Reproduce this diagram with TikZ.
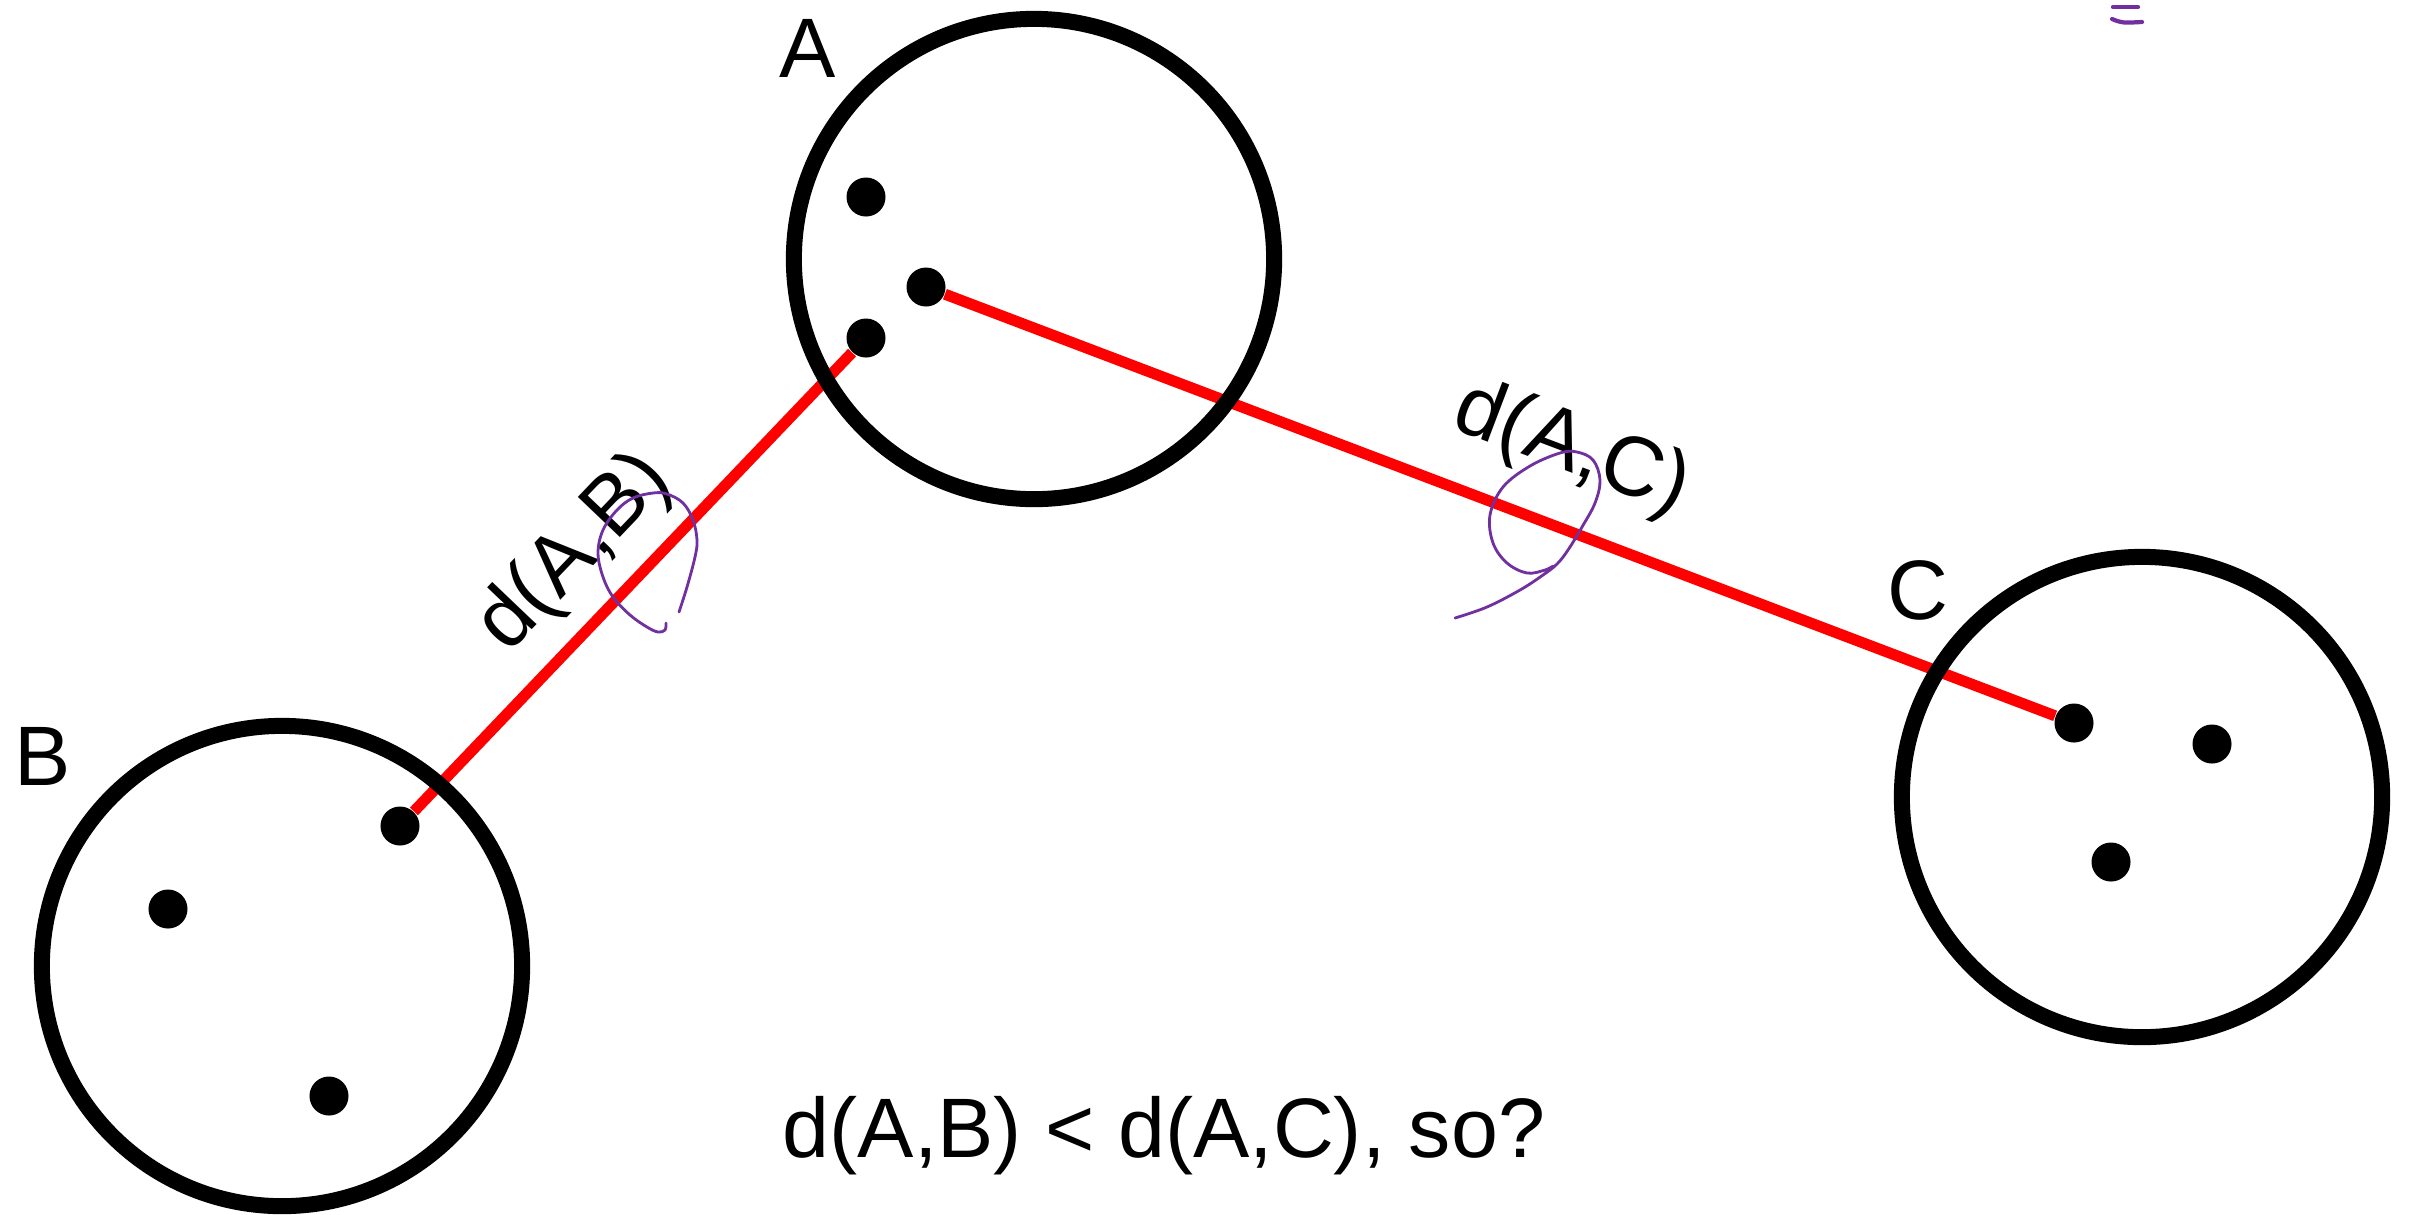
\documentclass[tikz,border=0pt]{standalone}
\usepackage{fontspec}
\setmainfont{Liberation Sans}
\definecolor{penviolet}{RGB}{112,48,160}
\begin{document}
\begin{tikzpicture}[x=0.01cm,y=-0.01cm,
		cluster/.style={circle,draw,line width=1.6mm,minimum size=4.8cm,inner sep=0pt},
		pt/.style={circle,fill,minimum size=3.9mm,inner sep=0pt},
		link/.style={line width=1.1mm,red},
		lbl/.style={font=\fontsize{24}{28}\selectfont,text=black,inner sep=0pt},
		scribble/.style={penviolet,line width=0.8pt,line cap=round,line join=round}]
			\useasboundingbox (0,0) rectangle (2409,1214);
			% points of each cluster
			\node[pt] (a1) at (866,197) {};
			\node[pt] (a2) at (926,287) {};
			\node[pt] (a3) at (866,338) {};
			\node[pt] (b1) at (400,826) {};
			\node[pt] (b2) at (168,909) {};
			\node[pt] (b3) at (329,1096) {};
			\node[pt] (c1) at (2074,723) {};
			\node[pt] (c2) at (2212,744) {};
			\node[pt] (c3) at (2111,862) {};
			\draw[link] (b1) -- node[lbl,sloped,pos=0.47,above=1.7mm] (dAB) {d(A,B)} (a3);
			\draw[link] (a2) -- node[lbl,sloped,pos=0.54,above=3.2mm] (dAC) {d(A,C)} (c1);
			\node[cluster] (A) at (1034,259) {};
			\node[cluster] (B) at (282,966) {};
			\node[cluster] (C) at (2142,797) {};
			\node[lbl,anchor=base] (nameA) at (808,77) {A};
			\node[lbl,anchor=base] (nameB) at (43,785) {B};
			\node[lbl,anchor=base] (nameC) at (1918,619) {C};
			\node[lbl,anchor=base] (question) at (1164,1157) {d(A,B) < d(A,C), so?};
			% pen marks
			\draw[scribble] plot[smooth,tension=0.6] coordinates {(679,612) (687,587) (695,557) (697,540) (693,520) (683,503) (667,494) (653,493) (633,498) (617,510) (603,530) (598,553) (603,577) (613,597) (630,615) (647,627) (658,632) (665,630) (666,623)};
			\draw[scribble] plot[smooth,tension=0.6] coordinates {(1455,618) (1487,607) (1520,590) (1543,575) (1557,564) (1568,550) (1582,527) (1595,503) (1600,480) (1593,460) (1577,452) (1560,453) (1530,466) (1503,487) (1490,515) (1493,543) (1507,563) (1527,573) (1545,570) (1553,566)};
			\draw[scribble,line width=1.2pt] (2113,7) -- (2138,7);
			\draw[scribble,line width=1.2pt] (2112,19) .. controls (2122,23) .. (2142,22);
		\end{tikzpicture}
\end{document}
